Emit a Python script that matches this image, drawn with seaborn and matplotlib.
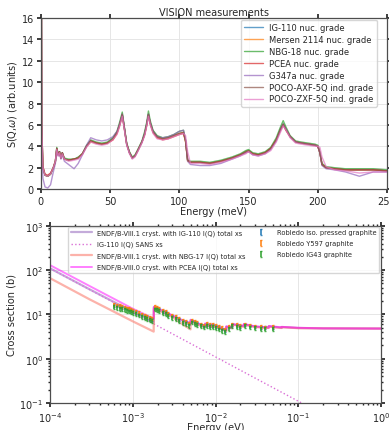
import numpy as np
import matplotlib
matplotlib.use("Agg")
import matplotlib.pyplot as plt
import seaborn as sns

# VISION inelastic spectra (energy transfer in meV)
E_MEV = [0, 0.2, 0.6, 1.5, 3, 5, 7, 9, 10.5, 11.5,
         12.5, 13.5, 14.5, 15.5, 17, 20, 24, 27, 30, 33,
         36, 40, 44, 48, 52, 55, 57, 58.8, 60, 62,
         64, 66, 68, 70, 73, 75, 76.5, 77.7, 79, 81,
         84, 88, 92, 96, 100, 103, 104.5, 106, 108, 115,
         122, 130, 138, 144, 148, 150, 153, 157, 162, 166,
         170, 173, 175, 177, 180, 184, 188, 193, 198, 200,
         201.5, 203, 206, 212, 220, 230, 240, 250]

S_IG110 = [0.9, 30, 6.0, 2.0, 1.3, 1.2, 1.4, 2.0, 2.6, 3.8,
           3.2, 3.5, 2.9, 3.4, 2.8, 2.7, 2.8, 2.9, 3.3, 4.0,
           4.5, 4.3, 4.2, 4.3, 4.7, 5.3, 6.1, 7.0, 6.0, 4.2,
           3.4, 2.9, 3.1, 3.6, 4.4, 5.2, 6.1, 7.0, 6.2, 5.4,
           4.9, 4.7, 4.8, 5.0, 5.2, 5.3, 4.5, 2.7, 2.5, 2.5,
           2.4, 2.6, 2.9, 3.2, 3.5, 3.6, 3.3, 3.2, 3.4, 3.8,
           4.6, 5.6, 6.1, 5.6, 4.9, 4.4, 4.3, 4.2, 4.1, 4.0,
           3.4, 2.3, 2.0, 1.9, 1.8, 1.8, 1.8, 1.7]
S_MERSEN = [0.9, 30, 6.0, 2.0, 1.3, 1.2, 1.4, 2.0, 2.6, 3.7,
            3.2, 3.4, 2.9, 3.3, 2.8, 2.7, 2.8, 2.9, 3.3, 4.0,
            4.4, 4.3, 4.2, 4.3, 4.6, 5.2, 6.0, 6.9, 5.9, 4.2,
            3.4, 2.9, 3.1, 3.6, 4.4, 5.1, 6.0, 6.9, 6.1, 5.3,
            4.8, 4.7, 4.8, 5.0, 5.2, 5.3, 4.4, 2.6, 2.5, 2.5,
            2.4, 2.6, 2.9, 3.2, 3.5, 3.6, 3.3, 3.2, 3.4, 3.8,
            4.6, 5.5, 6.0, 5.5, 4.9, 4.4, 4.3, 4.2, 4.1, 4.0,
            3.4, 2.3, 2.0, 1.9, 1.8, 1.8, 1.8, 1.7]
S_NBG18 = [0.9, 30, 6.0, 2.0, 1.3, 1.2, 1.4, 2.0, 2.6, 3.9,
           3.3, 3.5, 3.0, 3.4, 2.9, 2.8, 2.8, 3.0, 3.3, 4.1,
           4.6, 4.4, 4.3, 4.4, 4.8, 5.4, 6.3, 7.2, 6.1, 4.3,
           3.5, 3.0, 3.2, 3.7, 4.5, 5.4, 6.3, 7.3, 6.4, 5.5,
           5.0, 4.8, 4.9, 5.1, 5.4, 5.5, 4.6, 2.7, 2.6, 2.6,
           2.5, 2.7, 3.0, 3.3, 3.6, 3.7, 3.4, 3.3, 3.5, 3.9,
           4.8, 5.8, 6.4, 5.8, 5.0, 4.5, 4.4, 4.3, 4.2, 4.1,
           3.5, 2.4, 2.1, 2.0, 1.9, 1.9, 1.9, 1.8]
S_PCEA = [0.9, 30, 6.0, 2.1, 1.4, 1.3, 1.5, 2.0, 2.6, 3.8,
          3.2, 3.5, 2.9, 3.4, 2.8, 2.7, 2.8, 2.9, 3.3, 4.0,
          4.5, 4.3, 4.2, 4.3, 4.6, 5.2, 6.0, 6.9, 5.9, 4.2,
          3.4, 2.9, 3.1, 3.6, 4.4, 5.1, 6.0, 6.9, 6.1, 5.3,
          4.8, 4.6, 4.7, 4.9, 5.1, 5.2, 4.5, 2.7, 2.5, 2.5,
          2.4, 2.6, 2.9, 3.2, 3.4, 3.5, 3.3, 3.2, 3.4, 3.8,
          4.6, 5.5, 6.0, 5.5, 4.9, 4.4, 4.3, 4.2, 4.1, 4.0,
          3.4, 2.3, 2.0, 1.9, 1.8, 1.8, 1.8, 1.7]
S_G347A = [0.9, 30, 4.0, 1.0, 0.2, 0.1, 0.4, 1.6, 2.4, 3.6,
           3.1, 3.3, 2.8, 3.2, 2.6, 2.3, 1.9, 2.4, 3.2, 4.1,
           4.8, 4.6, 4.5, 4.6, 4.9, 5.4, 6.1, 7.0, 6.0, 4.2,
           3.4, 2.9, 3.1, 3.6, 4.4, 5.2, 6.1, 7.0, 6.2, 5.4,
           4.9, 4.8, 4.9, 5.1, 5.4, 5.5, 4.6, 2.6, 2.3, 2.2,
           2.2, 2.4, 2.8, 3.1, 3.4, 3.5, 3.2, 3.1, 3.3, 3.7,
           4.5, 5.5, 6.0, 5.6, 4.9, 4.4, 4.3, 4.2, 4.1, 4.0,
           3.4, 2.2, 1.9, 1.8, 1.6, 1.2, 1.6, 1.6]
S_AXF5Q = [0.9, 30, 6.0, 2.0, 1.3, 1.2, 1.4, 2.0, 2.6, 3.8,
           3.2, 3.5, 2.9, 3.4, 2.8, 2.7, 2.8, 2.9, 3.3, 4.0,
           4.5, 4.3, 4.2, 4.3, 4.7, 5.3, 6.1, 7.0, 6.0, 4.2,
           3.4, 2.9, 3.1, 3.6, 4.4, 5.2, 6.1, 7.0, 6.2, 5.4,
           4.9, 4.7, 4.8, 5.0, 5.2, 5.3, 4.5, 2.7, 2.5, 2.5,
           2.4, 2.6, 2.9, 3.2, 3.5, 3.6, 3.3, 3.2, 3.4, 3.8,
           4.6, 5.6, 6.1, 5.6, 4.9, 4.4, 4.3, 4.2, 4.1, 4.0,
           3.4, 2.3, 2.0, 1.9, 1.8, 1.8, 1.8, 1.7]
S_ZXF5Q = [0.9, 30, 6.0, 2.0, 1.3, 1.2, 1.4, 2.0, 2.6, 3.7,
           3.1, 3.4, 2.9, 3.3, 2.8, 2.6, 2.7, 2.8, 3.2, 3.9,
           4.4, 4.2, 4.1, 4.2, 4.6, 5.1, 5.9, 6.8, 5.8, 4.1,
           3.3, 2.8, 3.0, 3.5, 4.3, 5.0, 5.9, 6.8, 6.0, 5.2,
           4.7, 4.6, 4.7, 4.9, 5.1, 5.2, 5.0, 3.5, 2.4, 2.4,
           2.3, 2.5, 2.8, 3.1, 3.3, 3.5, 3.2, 3.1, 3.3, 3.6,
           4.4, 5.3, 5.9, 5.5, 4.8, 4.3, 4.2, 4.1, 4.0, 4.0,
           3.9, 3.0, 2.1, 1.8, 1.7, 1.5, 1.6, 1.6]

SPECTRA = [
    ("IG-110 nuc. grade", S_IG110),
    ("Mersen 2114 nuc. grade", S_MERSEN),
    ("NBG-18 nuc. grade", S_NBG18),
    ("PCEA nuc. grade", S_PCEA),
    ("G347a nuc. grade", S_G347A),
    ("POCO-AXF-5Q ind. grade", S_AXF5Q),
    ("POCO-ZXF-5Q ind. grade", S_ZXF5Q),
]

# total cross sections (energy in eV, xs in b)
E_XS = [1e-4, 3e-4, 1e-3, 1.79e-3, 1.8e-3, 2.2e-3, 3e-3, 4e-3, 4.99e-3, 5.0e-3,
        6e-3, 7.49e-3, 7.5e-3, 8.99e-3, 9e-3, 1.1e-2, 1.349e-2, 1.35e-2, 1.59e-2, 1.6e-2,
        2.19e-2, 2.2e-2, 3e-2, 4.39e-2, 4.4e-2, 6.29e-2, 6.3e-2, 0.1, 0.2, 1.0]
XS_IG110 = [110, 37, 11.5, 6.6, 14.5, 12.3, 9.3, 7.2, 6.2, 7.4,
            6.3, 5.4, 6.1, 5.4, 5.8, 5.1, 4.4, 5.3, 5.0, 6.0,
            5.4, 6.0, 5.3, 5.0, 5.4, 5.0, 5.2, 4.95, 4.85, 4.8]
XS_NBG17 = [66, 22, 7.0, 4.1, 13.5, 11.5, 8.8, 6.0, 4.6, 6.9,
            5.9, 5.1, 5.8, 5.2, 5.6, 5.0, 4.2, 5.2, 4.9, 5.9,
            5.3, 5.9, 5.2, 4.95, 5.3, 4.95, 5.15, 4.9, 4.85, 4.8]
XS_PCEA = [130, 44, 13.5, 8.0, 15.0, 12.8, 9.6, 7.4, 6.4, 7.6,
           6.4, 5.5, 6.3, 5.5, 6.0, 5.2, 4.5, 5.4, 5.1, 6.1,
           5.5, 6.1, 5.4, 5.1, 5.5, 5.1, 5.25, 5.0, 4.85, 4.8]
E_SANS = [1e-4, 1e-3, 1e-2, 1e-1, 1.0]
XS_SANS = [110, 11, 1.1, 0.11, 0.011]

# Robledo transmission measurements
E_ROB = [6e-4, 6.5e-4, 7e-4, 7.5e-4, 8e-4, 8.5e-4, 9e-4, 9.5e-4, 1.0e-3, 1.1e-3,
         1.2e-3, 1.3e-3, 1.4e-3, 1.5e-3, 1.6e-3, 1.7e-3, 1.85e-3, 1.95e-3, 2.1e-3, 2.3e-3,
         2.5e-3, 2.7e-3, 3.0e-3, 3.3e-3, 3.6e-3, 4.0e-3, 4.4e-3, 4.8e-3, 5.2e-3, 5.6e-3,
         6.0e-3, 6.6e-3, 7.2e-3, 7.8e-3, 8.5e-3, 9.3e-3, 1.0e-2, 1.1e-2, 1.2e-2, 1.3e-2,
         1.45e-2, 1.6e-2, 1.8e-2, 2.0e-2, 2.3e-2, 2.6e-2, 3.0e-2, 3.5e-2, 4.0e-2, 5.0e-2]
ROB_ISO = [16, 15.5, 15, 14.5, 14, 13.3, 12.8, 12.3, 11.8, 11,
           10.3, 9.7, 9.1, 8.6, 8.1, 7.7, 14.0, 13.6, 12.8, 11.8,
           10.9, 10.1, 9.2, 8.4, 7.8, 7.0, 6.5, 6.1, 7.1, 6.6,
           6.2, 5.8, 5.5, 5.9, 5.6, 5.6, 5.3, 5.0, 4.7, 4.4,
           5.2, 5.8, 5.6, 5.4, 5.8, 5.5, 5.2, 5.1, 5.0, 5.1]
ROB_Y597 = [17, 16.4, 15.9, 15.4, 14.8, 14.1, 13.6, 13.0, 12.5, 11.7,
            10.9, 10.3, 9.6, 9.1, 8.6, 8.2, 15.0, 14.6, 13.7, 12.6,
            11.6, 10.7, 9.8, 8.9, 8.3, 7.4, 6.9, 6.4, 7.5, 7.0,
            6.6, 6.1, 5.8, 6.2, 5.9, 5.9, 5.6, 5.3, 5.0, 4.7,
            5.5, 6.1, 5.9, 5.7, 6.1, 5.8, 5.5, 5.3, 5.2, 5.3]
ROB_IG43 = [14.5, 14.0, 13.6, 13.2, 12.7, 12.1, 11.7, 11.2, 10.8, 10.1,
            9.5, 8.9, 8.4, 7.9, 7.5, 7.1, 13.0, 12.6, 11.9, 11.0,
            10.1, 9.4, 8.5, 7.8, 7.2, 6.5, 6.0, 5.6, 6.6, 6.1,
            5.7, 5.4, 5.1, 5.5, 5.2, 5.2, 4.9, 4.6, 4.3, 4.0,
            4.8, 5.4, 5.2, 5.0, 5.4, 5.1, 4.9, 4.8, 4.7, 4.8]
ROB_ERR_FRAC = [0.07, 0.07, 0.1]


def setup_style():
    sns.set_theme(style="whitegrid", rc={
        "axes.edgecolor": "0.3",
        "axes.linewidth": 0.9,
        "grid.color": "0.9",
        "grid.linewidth": 0.7,
        "xtick.bottom": True,
        "ytick.left": True,
        "xtick.top": True,
        "ytick.right": True,
        "xtick.major.size": 3,
        "ytick.major.size": 3,
        "xtick.minor.size": 1.5,
        "ytick.minor.size": 1.5,
        "xtick.major.pad": 2,
        "ytick.major.pad": 2,
        "xtick.labelsize": 7,
        "ytick.labelsize": 7,
        "axes.labelsize": 7,
        "axes.titlesize": 7,
    })
    plt.rcParams["font.family"] = ["DejaVu Sans"]


def plot_vision(ax):
    colors = sns.color_palette("tab10", len(SPECTRA))
    for (label, vals), c in zip(SPECTRA, colors):
        ax.plot(E_MEV, vals, color=c, lw=1.0, alpha=0.7, label=label)
    ax.set_xlim(0, 250)
    ax.set_ylim(0, 16)
    ax.set_xticks([0, 50, 100, 150, 200, 250])
    ax.set_yticks(range(0, 17, 2))
    ax.set_xlabel("Energy (meV)", labelpad=0)
    ax.set_ylabel(r"S(Q,$\omega$) (arb.units)", labelpad=2)
    ax.set_title("VISION measurements", pad=2)
    ax.legend(loc="upper right", fontsize=6, frameon=True, borderaxespad=0.2,
              bbox_to_anchor=(0.976, 1.0), labelspacing=0.35, handlelength=2.2)


def plot_xs(ax):
    ax.plot(E_XS, XS_IG110, color="tab:purple", lw=1.6, alpha=0.55,
            label="ENDF/B-VIII.1 cryst. with IG-110 I(Q) total xs")
    ax.plot(E_SANS, XS_SANS, color="orchid", lw=1.0, ls=":",
            label="IG-110 I(Q) SANS xs")
    ax.plot(E_XS, XS_NBG17, color="salmon", lw=1.6, alpha=0.6,
            label="ENDF/B-VIII.1 cryst. with NBG-17 I(Q) total xs")
    ax.plot(E_XS, XS_PCEA, color="magenta", lw=1.4, alpha=0.5,
            label="ENDF/B-VIII.0 cryst. with PCEA I(Q) total xs")

    rob = [("Robledo iso. pressed graphite", ROB_ISO, "tab:blue"),
           ("Robledo Y597 graphite", ROB_Y597, "tab:orange"),
           ("Robledo IG43 graphite", ROB_IG43, "tab:green")]
    for (label, vals, c), frac in zip(rob, ROB_ERR_FRAC):
        vals = np.array(vals)
        ax.errorbar(E_ROB, vals, yerr=frac * vals, fmt="none", ecolor=c,
                    elinewidth=1.3, capsize=0.8, alpha=0.85, label=label)

    ax.set_xscale("log")
    ax.set_yscale("log")
    ax.set_xlim(1e-4, 1)
    ax.set_ylim(0.1, 1000)
    ax.set_xlabel("Energy (eV)", labelpad=-1)
    ax.set_ylabel("Cross section (b)", labelpad=2)
    ax.grid(True, which="major")
    ax.grid(False, which="minor")
    ax.legend(loc="upper left", ncol=2, fontsize=4.8, frameon=True,
              bbox_to_anchor=(0.054, 0.995, 0.94, 0.0), mode="expand",
              borderaxespad=0.0, handlelength=3.2, labelspacing=0.75)


def main():
    setup_style()
    fig = plt.figure(figsize=(3.89, 4.31), dpi=100)
    ax1 = fig.add_axes([0.105, 0.559, 0.89, 0.397])
    ax2 = fig.add_axes([0.1285, 0.0626, 0.851, 0.411])
    plot_vision(ax1)
    plot_xs(ax2)
    fig.savefig("out.png", dpi=100)
    plt.close(fig)


if __name__ == "__main__":
    main()
